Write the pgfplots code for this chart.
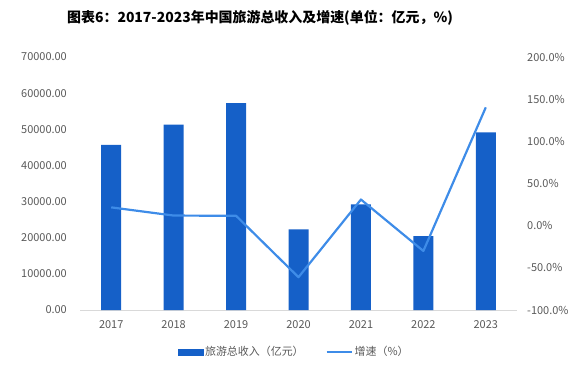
\documentclass[border=0pt]{standalone}
\usepackage{pgfplots}
\pgfplotsset{compat=1.18}
\usepackage{fontspec}
\setmainfont{Noto Sans CJK SC}
\definecolor{barblue}{RGB}{21,96,200}
\definecolor{lineblue}{RGB}{62,140,232}
\definecolor{ticktxt}{RGB}{89,89,89}
\definecolor{axisgray}{RGB}{217,217,217}
\begin{document}
\begin{tikzpicture}[x=1bp,y=1bp]
\path[use as bounding box] (0,0) rectangle (578,365);
\node[font=\fontsize{14}{16}\selectfont\bfseries, inner sep=0pt] at (260,347) {图表6：2017-2023年中国旅游总收入及增速(单位：亿元，\%)};
\begin{axis}[
  at={(80bp,55bp)}, anchor=south west, scale only axis,
  width=437bp, height=253bp,
  xmin=-0.5, xmax=6.5, ymin=0, ymax=70000,
  ytick={0,10000,...,70000},
  xtick={0,...,6},
  xticklabels={2017,2018,2019,2020,2021,2022,2023},
  axis x line*=bottom, axis y line*=left,
  x axis line style={draw=axisgray, line width=1pt, -},
  y axis line style={draw=none},
  major tick length=0pt,
  tick label style={font=\fontsize{11}{13}\selectfont, text=ticktxt},
  /pgf/number format/assume math mode=true,
  yticklabel={\pgfmathprintnumber[fixed,fixed zerofill,precision=2,1000 sep={}]{\tick}},
  scaled y ticks=false,
  yticklabel style={inner sep=0pt, xshift=-13bp},
  xticklabel style={inner sep=0pt, yshift=-10bp},
  ybar, bar width=20bp,
]
\addplot[fill=barblue, draw=none] coordinates {(0,45661) (1,51278) (2,57251) (3,22286) (4,29191) (5,20444) (6,49133)};
\end{axis}
\begin{axis}[
  at={(80bp,55bp)}, anchor=south west, scale only axis,
  width=437bp, height=253bp,
  xmin=-0.5, xmax=6.5, ymin=-100, ymax=200,
  ytick={-100,-50,...,200},
  axis y line*=right, axis x line=none,
  y axis line style={draw=none},
  major tick length=0pt,
  tick label style={font=\fontsize{11}{13}\selectfont, text=ticktxt},
  /pgf/number format/assume math mode=true,
  yticklabel={\pgfmathprintnumber[fixed,fixed zerofill,precision=1]{\tick}\%},
  yticklabel style={inner sep=0pt, xshift=10bp},
  legend style={at={(0.49,-0.166)}, anchor=center, draw=none, fill=none,
    font=\fontsize{11}{13}\selectfont, text=ticktxt, legend columns=2,
    /tikz/every even column/.append style={column sep=20bp}},
]
\addlegendimage{legend image code/.code={\fill[barblue] (0bp,-3bp) rectangle (25bp,3bp);}}
\addlegendentry{旅游总收入（亿元）}
\addplot[lineblue, line width=2.2pt, line join=round,
  legend image code/.code={\draw[lineblue, line width=2pt] (0bp,0bp) -- (25bp,0bp);}]
  coordinates {(0,21.7) (1,12.0) (2,11.7) (3,-61.1) (4,31.0) (5,-30.0) (6,140.3)};
\addlegendentry{增速（\%）}
\end{axis}
\end{tikzpicture}
\end{document}
